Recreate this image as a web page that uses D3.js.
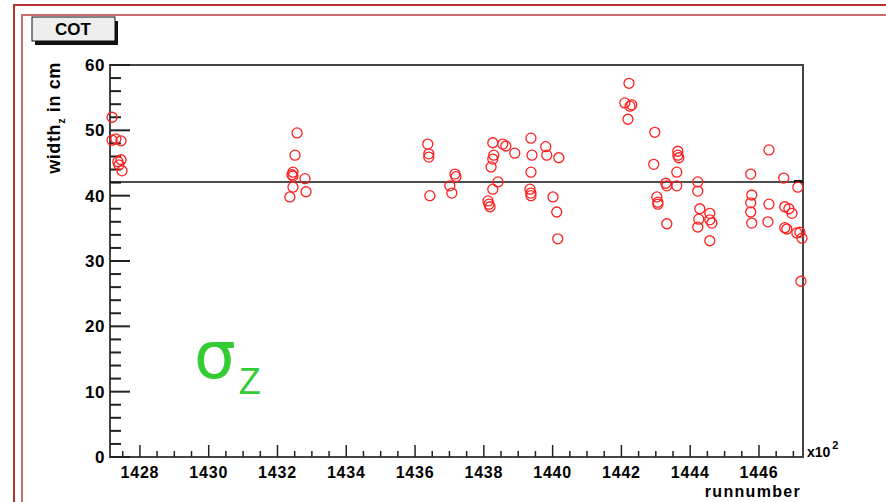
<!DOCTYPE html>
<html>
<head>
<meta charset="utf-8">
<script src="https://cdn.jsdelivr.net/npm/d3@7"></script>
<style>
  body { margin: 0; background: #fff; }
  svg { display: block; font-family: "Liberation Sans", Arial, sans-serif; }
</style>
</head>
<body>
<script>
// run numbers (in units of 10^2) and measured width_z in cm
const runs = [
  1427.19, 1427.19, 1427.30, 1427.45, 1427.36, 1427.45, 1427.39, 1427.48,
  1432.57, 1432.51, 1432.45, 1432.42, 1432.45, 1432.45, 1432.36, 1432.80, 1432.83,
  1436.37, 1436.40, 1436.40, 1436.43, 1437.16, 1437.19, 1437.01, 1437.07,
  1438.26, 1438.55, 1438.64, 1438.29, 1438.26, 1438.21, 1438.41, 1438.26,
  1438.12, 1438.15, 1438.18, 1438.90, 1439.37, 1439.40, 1439.37, 1439.34,
  1439.37, 1439.37, 1439.80, 1439.83, 1440.18, 1440.01, 1440.12, 1440.15,
  1442.22, 1442.10, 1442.25, 1442.30, 1442.19, 1442.97, 1442.94, 1443.29,
  1443.32, 1443.03, 1443.06, 1443.06, 1443.64, 1443.64, 1443.67, 1443.61,
  1443.61, 1443.32, 1444.22, 1444.22, 1444.28, 1444.57, 1444.25, 1444.22,
  1444.57, 1444.63, 1444.57, 1445.76, 1445.79, 1445.76, 1445.76, 1445.79,
  1446.29, 1446.29, 1446.26, 1446.72, 1446.75, 1446.87, 1446.96, 1446.75,
  1446.81, 1447.10, 1447.19, 1447.25, 1447.13, 1447.22
];
const widths = [
  52.0, 48.5, 48.7, 48.4, 45.2, 45.5, 44.7, 43.8,
  49.6, 46.2, 43.6, 43.2, 43.0, 41.3, 39.8, 42.6, 40.6,
  47.9, 46.4, 45.9, 40.0, 43.3, 42.9, 41.5, 40.4,
  48.1, 47.9, 47.6, 46.2, 45.6, 44.4, 42.1, 41.0,
  39.2, 38.7, 38.3, 46.5, 48.8, 46.2, 43.6, 41.0,
  40.4, 40.0, 47.5, 46.2, 45.8, 39.8, 37.5, 33.4,
  57.2, 54.2, 53.7, 53.9, 51.7, 49.7, 44.8, 41.9,
  41.5, 39.8, 39.0, 38.7, 46.8, 46.2, 45.8, 43.6,
  41.5, 35.7, 42.1, 40.7, 38.0, 37.3, 36.4, 35.2,
  36.3, 35.8, 33.1, 43.3, 40.1, 38.9, 37.5, 35.8,
  47.0, 38.7, 36.0, 42.7, 38.3, 38.0, 37.3, 35.1,
  34.9, 34.3, 34.4, 33.5, 41.3, 26.9
];
const fitValue = 42.1;
const xTicks = [1428, 1430, 1432, 1434, 1436, 1438, 1440, 1442, 1444, 1446];
const yTicks = [0, 10, 20, 30, 40, 50, 60];

const W = 886, H = 502;
const padL = 110, padR = 803, padT = 65, padB = 457;

const svg = d3.select("body").append("svg").attr("width", W).attr("height", H);

// red canvas frames
svg.append("rect").attr("x", 14).attr("y", 5).attr("width", 900).attr("height", 520)
  .attr("fill", "none").attr("stroke", "#b83232").attr("stroke-width", 2);
svg.append("rect").attr("x", 22).attr("y", 15).attr("width", 900).attr("height", 520)
  .attr("fill", "none").attr("stroke", "#cc6a6a").attr("stroke-width", 2);

// scales
const x = d3.scaleLinear().domain([1427.13, 1447.28]).range([padL, padR]);
const y = d3.scaleLinear().domain([0, 60]).range([padB, padT]);

// frame
svg.append("rect").attr("x", padL).attr("y", padT)
  .attr("width", padR - padL).attr("height", padB - padT)
  .attr("fill", "none").attr("stroke", "#444").attr("stroke-width", 2);

// y axis ticks (inside)
const yMinor = d3.range(0, 60.01, 2);
svg.append("g").selectAll("line").data(yMinor).enter().append("line")
  .attr("x1", padL).attr("x2", (d) => padL + (d % 10 === 0 ? 20 : 11))
  .attr("y1", (d) => y(d)).attr("y2", (d) => y(d))
  .attr("stroke", "#222").attr("stroke-width", 2);
svg.append("g").selectAll("text").data(yTicks).enter().append("text")
  .attr("x", 105).attr("y", (d) => y(d) + 6)
  .attr("text-anchor", "end").attr("font-size", 17).attr("font-weight", "bold")
  .attr("letter-spacing", 0.5)
  .text((d) => d);

// x axis ticks (inside)
const xMinor = d3.range(1427.5, 1447.01, 0.5);
svg.append("g").selectAll("line").data(xMinor).enter().append("line")
  .attr("x1", (d) => x(d)).attr("x2", (d) => x(d))
  .attr("y1", padB).attr("y2", (d) => padB - (d % 2 === 0 ? 12 : 6))
  .attr("stroke", "#222").attr("stroke-width", 1.5);
svg.append("g").selectAll("text").data(xTicks).enter().append("text")
  .attr("x", (d) => x(d)).attr("y", 478)
  .attr("text-anchor", "middle").attr("font-size", 16).attr("font-weight", "bold")
  .attr("letter-spacing", 0.8)
  .text((d) => d);

// x10^2 and axis titles
const mult = svg.append("text").attr("x", 807).attr("y", 457)
  .attr("font-size", 14).attr("font-weight", "bold");
mult.append("tspan").text("x10");
mult.append("tspan").attr("dy", -8).attr("dx", 2).attr("font-size", 11).text("2");

svg.append("text").attr("x", 801).attr("y", 497).attr("text-anchor", "end")
  .attr("font-size", 16).attr("font-weight", "bold").attr("letter-spacing", 1.3)
  .text("runnumber");

const yt = svg.append("text").attr("transform", "translate(60,118) rotate(-90)")
  .attr("text-anchor", "middle").attr("font-size", 18).attr("font-weight", "bold")
  .attr("letter-spacing", 0.6);
yt.append("tspan").text("width");
yt.append("tspan").attr("dy", 5).attr("font-size", 11).text("z");
yt.append("tspan").attr("dy", -5).text(" in cm");

// fit line
svg.append("line").attr("x1", padL).attr("x2", padR)
  .attr("y1", y(fitValue)).attr("y2", y(fitValue))
  .attr("stroke", "#111").attr("stroke-width", 1.5);
svg.append("rect").attr("x", padR - 9).attr("y", y(fitValue) - 2)
  .attr("width", 8).attr("height", 3).attr("fill", "#111");

// data points
svg.append("g").selectAll("circle").data(runs).enter().append("circle")
  .attr("cx", (d) => x(d)).attr("cy", (d, i) => y(widths[i]))
  .attr("r", 5).attr("fill", "none").attr("stroke", "#ff2020").attr("stroke-width", 1.3);

// title box
svg.append("rect").attr("x", 35).attr("y", 21).attr("width", 83).attr("height", 24).attr("fill", "#111");
svg.append("rect").attr("x", 32).attr("y", 17).attr("width", 83).attr("height", 24)
  .attr("fill", "#eeeeee").attr("stroke", "#111").attr("stroke-width", 1);
svg.append("text").attr("x", 73).attr("y", 35).attr("text-anchor", "middle")
  .attr("font-size", 17).attr("font-weight", "bold").text("COT");

// sigma_z label
const sg = svg.append("text").attr("x", 194).attr("y", 378).attr("fill", "#33cc33");
sg.append("tspan").attr("font-size", 66).attr("font-family", "DejaVu Sans").text("σ");
sg.append("tspan").attr("font-size", 36).attr("dx", 3).attr("dy", 16).text("Z");
</script>
</body>
</html>
